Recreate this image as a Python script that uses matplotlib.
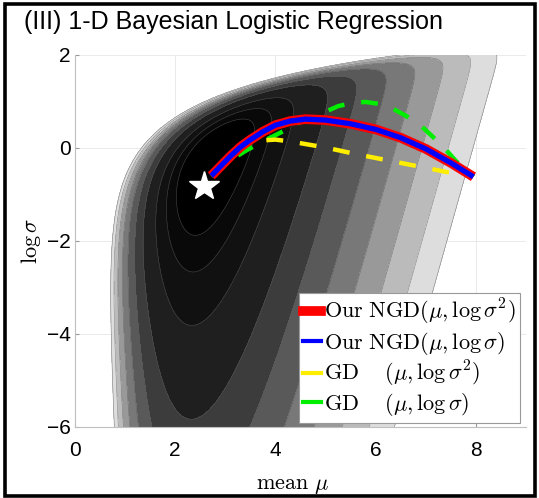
import numpy as np
import matplotlib
matplotlib.use("Agg")
import matplotlib.pyplot as plt
from matplotlib.patches import Rectangle
from matplotlib.lines import Line2D

plt.rcParams["mathtext.fontset"] = "cm"
plt.rcParams["font.family"] = ["Liberation Sans", "DejaVu Sans"]

# optimisation paths, as (mean mu, log sigma)
ngd_mu = [2.72, 2.90, 3.10, 3.30, 3.49, 3.75, 4.00, 4.30, 4.60, 5.00, 5.50, 6.00, 6.50, 7.00, 7.50, 7.95]
ngd_logsig = [-0.60, -0.40, -0.18, 0.02, 0.17, 0.35, 0.49, 0.58, 0.62, 0.60, 0.52, 0.40, 0.22, -0.02, -0.32, -0.62]

gd_sq_mu = [2.72, 2.95, 3.20, 3.45, 3.70, 4.00, 4.30, 5.00, 5.60, 6.40, 7.20, 7.80]
gd_sq_logsig = [-0.60, -0.35, -0.10, 0.08, 0.16, 0.18, 0.14, 0.01, -0.13, -0.30, -0.47, -0.60]

gd_mu = [2.72, 3.00, 3.44, 3.80, 4.10, 4.50, 4.94, 5.25, 5.54, 5.80, 6.06, 6.35, 6.59, 6.92, 7.32, 7.60, 7.95]
gd_logsig = [-0.60, -0.33, -0.04, 0.17, 0.33, 0.56, 0.75, 0.90, 0.97, 0.99, 0.95, 0.84, 0.70, 0.46, 0.06, -0.28, -0.62]

star_mu, star_logsig = 2.57, -0.82

legend_labels = [r"$\mathrm{Our\ NGD}(\mu,\log\sigma^2)$",
                 r"$\mathrm{Our\ NGD}(\mu,\log\sigma)$",
                 r"$\mathrm{GD}\quad\ (\mu,\log\sigma^2)$",
                 r"$\mathrm{GD}\quad\ (\mu,\log\sigma)$"]

# objective surface (shape tuned to the figure)
P, a, lam = 60.0, 1.9, 0.73
R, m, b = 3.85, 2.8, 1.2
levels = [4.2, 4.9, 6.0, 8.0, 9.9, 11.9, 13.9, 15.9, 17.9, 19.8]


def objective(mu, logsig):
    sig = np.exp(logsig)
    steep = P * np.exp(-a * (mu - lam * sig))
    slope = R * np.logaddexp(0, b * (mu - m)) / b
    return steep + slope - logsig


mu_grid = np.linspace(0, 9, 700)
s_grid = np.linspace(-6, 2.2, 600)
MU, S = np.meshgrid(mu_grid, s_grid)
F = objective(MU, S)
fmin = F.min()

fill_levels = [fmin - 1] + levels
lower = np.array(fill_levels[:-1])
grays = np.clip((lower - fmin) / (levels[-1] - fmin), 0, 1) ** 1.15
fill_colors = [str(g) for g in grays]

fig = plt.figure(figsize=(5.39, 4.98), dpi=100)
ax = fig.add_axes([0.139, 0.1426, 0.837, 0.747])

ax.grid(True, color="0.9", lw=0.6)
ax.set_axisbelow(True)
ax.contourf(MU, S, F, levels=fill_levels, colors=fill_colors, zorder=1)
ax.contour(MU, S, F, levels=levels, colors="0.35", linewidths=0.4, alpha=0.7, zorder=1.5)

ax.plot(gd_mu, gd_logsig, color="#00ee00", lw=3.2, ls=(0, (3.8, 3.8)), zorder=3)
ax.plot(gd_sq_mu, gd_sq_logsig, color="#ffee00", lw=3.2, ls=(0, (3.8, 3.8)), zorder=3)
ax.plot(ngd_mu, ngd_logsig, color="red", lw=7, solid_capstyle="butt", zorder=4)
ax.plot(ngd_mu, ngd_logsig, color="blue", lw=3.8, solid_capstyle="butt", zorder=5)
ax.plot(star_mu, star_logsig, marker="*", ms=22, color="white", mec="white", zorder=6)

ax.set_xlim(0, 9)
ax.set_ylim(-6, 2)
ax.set_xticks([0, 2, 4, 6, 8])
ax.set_yticks([-6, -4, -2, 0, 2])
ax.tick_params(direction="in", length=3, color="0.6", labelsize=15)
ax.tick_params(axis="x", pad=10)
ax.tick_params(axis="y", pad=3)
for side in ["top", "right"]:
    ax.spines[side].set_visible(False)
for side in ["left", "bottom"]:
    ax.spines[side].set_color("0.75")
    ax.spines[side].set_linewidth(0.8)

ax.set_xlabel(r"$\mathrm{mean}\ \mu$", fontsize=16)
ax.xaxis.set_label_coords(0.482, -0.13)
ax.set_ylabel(r"$\log\sigma$", fontsize=16)
ax.yaxis.set_label_coords(-0.07, 0.5)

handles = [Line2D([], [], color="red", lw=7),
           Line2D([], [], color="blue", lw=3),
           Line2D([], [], color="#ffee00", lw=3),
           Line2D([], [], color="#00ee00", lw=3)]
leg = ax.legend(handles, legend_labels, loc="lower right", bbox_to_anchor=(0.987, 0.012),
                fontsize=16, handlelength=0.8, handletextpad=0.15, labelspacing=0.1,
                borderpad=0.2, borderaxespad=0, fancybox=False, framealpha=1,
                edgecolor="0.6")
leg.get_frame().set_linewidth(0.8)
leg.set_zorder(10)

fig.text(0.045, 0.956, "(III) 1-D Bayesian Logistic Regression", fontsize=18, va="center")
fig.patches.append(Rectangle((5 / 539, 2.5 / 498), 529.5 / 539, 491 / 498, transform=fig.transFigure,
                             fill=False, lw=2.6, edgecolor="black"))

fig.savefig("out.png", dpi=100)
